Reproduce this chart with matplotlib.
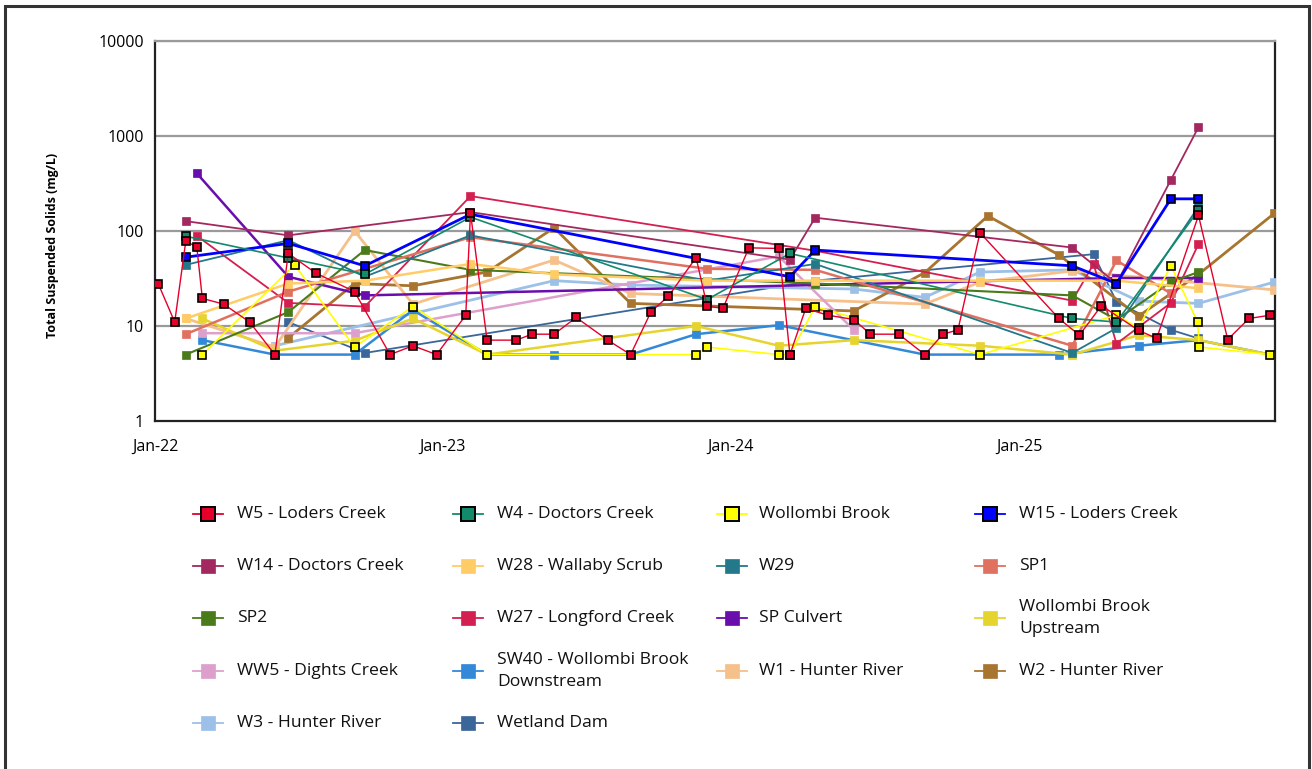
import matplotlib
matplotlib.use('Agg')
import matplotlib.pyplot as plt
import matplotlib.dates as mdates
from matplotlib.lines import Line2D
from matplotlib.patches import Rectangle
from matplotlib.ticker import FixedLocator, FixedFormatter, NullLocator
import numpy as np

plt.rcParams['font.family'] = ['Open Sans', 'DejaVu Sans']

# ---------------- data ----------------
w5_dates = ["2022-01-05", "2022-01-26", "2022-02-09", "2022-02-23", "2022-03-02", "2022-03-29",
            "2022-05-01", "2022-06-02", "2022-06-19", "2022-07-24", "2022-09-11", "2022-10-26",
            "2022-11-24", "2022-12-24", "2023-01-30", "2023-02-05", "2023-02-26", "2023-04-04",
            "2023-04-24", "2023-05-22", "2023-06-19", "2023-07-29", "2023-08-27", "2023-09-22",
            "2023-10-14", "2023-11-18", "2023-12-02", "2023-12-22", "2024-01-24", "2024-03-02",
            "2024-03-16", "2024-04-05", "2024-05-03", "2024-06-05", "2024-06-26", "2024-08-01",
            "2024-09-03", "2024-09-26", "2024-10-15", "2024-11-12", "2025-02-20", "2025-03-18",
            "2025-04-15", "2025-06-01", "2025-06-24", "2025-08-16", "2025-09-22", "2025-10-19",
            "2025-11-15"]
w5_vals = [28, 11, 78, 68, 19.5, 17,
           11, 5, 58, 36, 23, 5,
           6.2, 5, 13, 155, 7.1, 7.1,
           8.2, 8.2, 12.3, 7.1, 5, 14.2,
           20.6, 52.6, 16.2, 15.3, 66.5, 65.5,
           5, 15.3, 13, 11.7, 8.2, 8.2,
           5, 8.2, 9.1, 96, 12, 8,
           16.4, 9, 7.4, 146, 7.2, 12,
           13]

w4_dates = ["2022-02-09", "2022-06-19", "2022-09-24", "2023-02-05", "2023-12-02", "2024-03-16",
            "2025-03-09", "2025-05-04", "2025-08-16"]
w4_vals = [88, 52, 35, 140, 19, 58, 12, 11, 165]

wb_dates = ["2022-03-02", "2022-06-27", "2022-09-11", "2022-11-24", "2023-02-26", "2023-11-18",
            "2023-12-02", "2024-03-02", "2024-03-16", "2024-04-17", "2024-11-12", "2025-05-04",
            "2025-06-01", "2025-07-12", "2025-08-15", "2025-08-17", "2025-11-15"]
wb_vals = [5, 44, 6, 16, 5, 5, 6, 5, 5, 16, 5, 13, 9.5, 43, 11, 6, 5]

w15_dates = ["2022-02-09", "2022-06-19", "2022-09-24", "2023-02-05", "2024-03-16", "2024-04-17",
             "2025-03-09", "2025-05-04", "2025-07-12", "2025-08-16"]
w15_vals = [53, 74, 43, 150, 33, 63, 43, 28, 218, 218]

w14_dates = ["2022-02-09", "2022-06-19", "2023-02-05", "2024-03-16", "2024-04-17", "2025-03-09",
             "2025-05-04", "2025-07-12", "2025-08-16"]
w14_vals = [127, 90, 158, 50, 138, 67, 28, 345, 1240]

w28_dates = ["2022-02-09", "2022-06-19", "2022-09-24", "2023-02-05", "2023-05-22", "2023-12-02",
             "2024-04-17", "2024-11-12", "2025-05-04", "2025-08-16"]
w28_vals = [12, 28, 30, 45, 35, 30, 30, 30, 30, 25]

w29_dates = ["2022-02-09", "2022-06-19", "2022-09-24", "2023-02-05", "2023-12-02", "2024-04-17",
             "2025-03-09", "2025-05-04", "2025-08-16"]
w29_vals = [44, 80, 33, 90, 30, 45, 5.2, 9.5, 180]

sp1_dates = ["2022-02-09", "2022-06-19", "2023-02-05", "2023-12-02", "2024-04-17", "2025-03-09",
             "2025-05-04", "2025-07-12"]
sp1_vals = [8.2, 23, 86, 40, 39, 6.2, 49, 22]

sp2_dates = ["2022-02-09", "2022-06-19", "2022-09-24", "2023-02-05", "2024-04-17", "2025-03-09",
             "2025-05-04", "2025-07-12", "2025-08-16"]
sp2_vals = [5, 14, 63, 39, 28, 21, 11.6, 29, 37]

w27_dates = ["2022-02-23", "2022-06-19", "2022-09-24", "2023-02-05", "2024-04-17", "2025-03-09",
             "2025-04-05", "2025-05-04", "2025-07-12", "2025-08-16"]
w27_vals = [89, 17.5, 16, 233, 62, 18.5, 45, 6.5, 17.5, 73]

spc_dates = ["2022-02-23", "2022-06-19", "2022-09-24", "2025-05-04", "2025-08-16"]
spc_vals = [405, 33, 21, 32, 32]

wbu_dates = ["2022-03-02", "2022-06-02", "2022-09-11", "2022-11-24", "2023-02-26", "2023-11-18",
             "2024-03-02", "2024-06-05", "2024-11-12", "2025-03-09", "2025-06-01", "2025-08-16",
             "2025-11-15"]
wbu_vals = [12, 5.5, 7, 12, 5, 10, 6.2, 7.1, 6.2, 5, 8, 7.1, 5]

ww5_dates = ["2022-03-02", "2022-09-11", "2024-03-02", "2024-06-05"]
ww5_vals = [8.4, 8.4, 54, 9.1]

sw40_dates = ["2022-03-02", "2022-06-02", "2022-09-11", "2022-11-24", "2023-02-26", "2023-05-22",
              "2023-08-27", "2023-11-18", "2024-03-02", "2024-09-03", "2025-02-20", "2025-06-01",
              "2025-08-16", "2025-11-15"]
sw40_vals = [7.1, 5, 5, 14.7, 5, 5, 5, 8.2, 10.2, 5, 5, 6.2, 7.1, 5]

w1_dates = ["2022-02-09", "2022-06-02", "2022-09-11", "2022-11-24", "2023-05-22", "2023-08-27",
            "2024-09-03", "2024-11-12", "2025-03-09", "2025-11-20"]
w1_vals = [12, 6, 100, 17, 49.5, 22, 17, 29, 38, 24]

w2_dates = ["2022-06-19", "2022-09-11", "2022-11-24", "2023-02-26", "2023-05-22", "2023-08-27",
            "2024-06-05", "2024-09-03", "2024-11-22", "2025-02-20", "2025-06-01", "2025-08-16",
            "2025-11-20"]
w2_vals = [7.5, 28, 26.5, 37, 108, 17.3, 14.4, 36.5, 144, 56, 12.7, 35, 153]

w3_dates = ["2022-06-02", "2023-05-22", "2023-08-27", "2024-06-05", "2024-09-03", "2024-11-12",
            "2025-03-09", "2025-06-01", "2025-08-16", "2025-11-20"]
w3_vals = [6.2, 30, 27, 24.5, 20, 37, 39, 18.3, 17.3, 29]

wd_dates = ["2022-06-19", "2022-09-24", "2024-04-17", "2025-04-05", "2025-05-04", "2025-07-12",
            "2025-08-16"]
wd_vals = [11, 5.2, 30, 57, 18, 9.1, 7.4]

series_labels = ["W5 - Loders Creek", "W4 - Doctors Creek", "Wollombi Brook", "W15 - Loders Creek",
                 "W14 - Doctors Creek", "W28 - Wallaby Scrub", "W29", "SP1",
                 "SP2", "W27 - Longford Creek", "SP Culvert", "Wollombi Brook\nUpstream",
                 "WW5 - Dights Creek", "SW40 - Wollombi Brook\nDownstream", "W1 - Hunter River",
                 "W2 - Hunter River", "W3 - Hunter River", "Wetland Dam"]

y_ticks = [1, 10, 100, 1000, 10000]
y_tick_labels = ["1", "10", "100", "1000", "10000"]
x_tick_dates = ["2022-01-01", "2023-01-01", "2024-01-01", "2025-01-01"]
x_tick_labels = ["Jan-22", "Jan-23", "Jan-24", "Jan-25"]

# ---------------- styles ----------------
series_data = [(w5_dates, w5_vals), (w4_dates, w4_vals), (wb_dates, wb_vals), (w15_dates, w15_vals),
               (w14_dates, w14_vals), (w28_dates, w28_vals), (w29_dates, w29_vals), (sp1_dates, sp1_vals),
               (sp2_dates, sp2_vals), (w27_dates, w27_vals), (spc_dates, spc_vals), (wbu_dates, wbu_vals),
               (ww5_dates, ww5_vals), (sw40_dates, sw40_vals), (w1_dates, w1_vals),
               (w2_dates, w2_vals), (w3_dates, w3_vals), (wd_dates, wd_vals)]
colors = ["#E4002B", "#128A6C", "#FFFF00", "#0000FF",
          "#A3285F", "#FFCC66", "#23788A", "#E07060",
          "#4B7A1A", "#D42050", "#6A0DAD", "#E6D42E",
          "#DDA0CC", "#3388D8", "#F5C08A", "#A87530",
          "#9CC0E8", "#3A6699"]
edged = [True, True, True, True] + [False] * 14
lwidths = [1.0, 1.2, 1.2, 2.0, 1.3, 1.8, 1.3, 1.8, 1.5, 1.3, 1.8, 1.8, 1.8, 1.8, 2.0, 2.0, 2.0, 1.3]

W, H = 1312, 769
fig = plt.figure(figsize=(W / 100, H / 100), dpi=100)
ax = fig.add_axes([155 / W, 1 - 421 / H, (1275 - 155) / W, (421 - 41) / H])

draw_order = list(range(17, -1, -1))
for k, i in enumerate(draw_order):
    d, v = series_data[i]
    x = mdates.datestr2num(d)
    ax.plot(x, v, color=colors[i], lw=lwidths[i], marker='s', markersize=6.0,
            markerfacecolor=colors[i],
            markeredgecolor='black' if edged[i] else colors[i],
            markeredgewidth=1.2 if edged[i] else 0.5,
            zorder=3 + k * 0.1)

ax.set_yscale('log')
ax.set_ylim(1, 10000)
ax.set_xlim(mdates.datestr2num("2022-01-01"), mdates.datestr2num("2025-11-21"))
ax.yaxis.set_major_locator(FixedLocator(y_ticks))
ax.yaxis.set_major_formatter(FixedFormatter(y_tick_labels))
ax.yaxis.set_minor_locator(NullLocator())
ax.xaxis.set_major_locator(FixedLocator(mdates.datestr2num(x_tick_dates)))
ax.xaxis.set_major_formatter(FixedFormatter(x_tick_labels))
ax.tick_params(axis='both', labelsize=11.5, length=0, pad=8)
ax.tick_params(axis='x', pad=13)

for yv in y_ticks[1:]:
    ax.axhline(yv, color='#9a9a9a', lw=1.6, zorder=1)

for s in ['left', 'bottom', 'right']:
    ax.spines[s].set_color('#222222')
    ax.spines[s].set_linewidth(1.6)
ax.spines['top'].set_color('#9a9a9a')
ax.spines['top'].set_linewidth(1.6)

fig.text(53 / W, 1 - 245 / H, "Total Suspended Solids (mg/L)", rotation=90,
         fontsize=9, fontweight='bold', ha='center', va='center')

# ---------------- legend (manual grid, row-major) ----------------
col_line_x = [193, 453, 717, 975]
col_text_x = [237, 497, 759, 1019]
row_y = [514, 566, 618, 671, 723]
for i, lab in enumerate(series_labels):
    r, c = divmod(i, 4)
    y = 1 - row_y[r] / H
    x0 = col_line_x[c] / W
    x1 = (col_line_x[c] + 30) / W
    fig.add_artist(Line2D([x0, x1], [y, y], transform=fig.transFigure,
                          color=colors[i], lw=1.3))
    fig.add_artist(Line2D([(x0 + x1) / 2], [y], transform=fig.transFigure,
                          marker='s', markersize=10, markerfacecolor=colors[i],
                          markeredgecolor='black' if edged[i] else colors[i],
                          markeredgewidth=1.4 if edged[i] else 0.5, lw=0))
    fig.text(col_text_x[c] / W, y, lab, fontsize=12.6, ha='left', va='center',
             linespacing=1.55, color='#111111')

# page frame
fig.add_artist(Rectangle((5 / W, -0.05), (1309 - 5) / W, 1.05 - 6 / H,
                         transform=fig.transFigure, fill=False,
                         edgecolor='#333333', lw=2.2))

fig.savefig('out.png', dpi=100, facecolor='white')
